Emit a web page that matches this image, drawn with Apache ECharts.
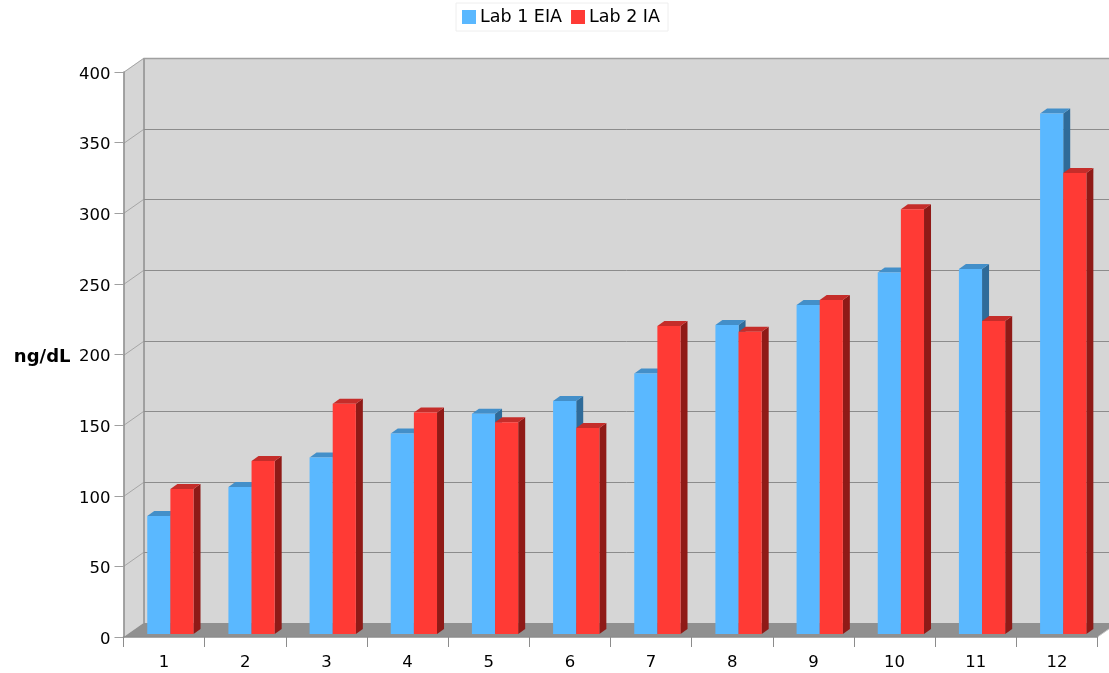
<!DOCTYPE html>
<html>
<head>
<meta charset="utf-8">
<style>html,body{margin:0;padding:0;background:#fff}#c{width:1109px;height:673px}</style>
<script src="https://cdn.jsdelivr.net/npm/echarts@6/dist/echarts.min.js"></script>
</head>
<body>
<div id="c"></div>
<script>
const categories = ['1','2','3','4','5','6','7','8','9','10','11','12'];
const lab1 = [83.5, 104, 125, 142, 156, 165, 184.5, 218.8, 233, 256, 258.4, 368.5];
const lab2 = [102.7, 122.5, 163, 156.8, 150, 145.8, 218, 214, 236.5, 300.7, 221.6, 326.4];
const tickValues = [0, 50, 100, 150, 200, 250, 300, 350, 400];
const wallDX = 20, wallDY = -14;
const barOffX = 6.3, barOffY = -3, barDX = 7, barDY = -5, barFrac = 0.285;

function poly(points, fill, stroke, lw) {
  return {type: 'polygon', shape: {points: points},
    style: {fill: fill, stroke: stroke || null, lineWidth: lw || 0}};
}
function seg(x1, y1, x2, y2, color, lw) {
  return {type: 'line', shape: {x1, y1, x2, y2}, style: {stroke: color, lineWidth: lw || 1, fill: null}};
}
function wallItem(params, api) {
  const band = api.size([1, 0])[0];
  const l = api.coord([0, 0])[0] - band / 2;
  const r = api.coord([11, 0])[0] + band / 2;
  const y0 = api.coord([0, 0])[1], yT = api.coord([0, 400])[1];
  const c = [];
  c.push(poly([[l + wallDX, yT + wallDY], [r + wallDX, yT + wallDY], [r + wallDX, y0 + wallDY], [l + wallDX, y0 + wallDY]], '#d6d6d6'));
  c.push(poly([[l, y0], [l + wallDX, y0 + wallDY], [l + wallDX, yT + wallDY], [l, yT]], '#d6d6d6'));
  c.push(poly([[l, y0], [l + wallDX, y0 + wallDY], [r + wallDX, y0 + wallDY], [r, y0]], '#909090'));
  c.push(seg(l + wallDX + .5, yT + wallDY, l + wallDX + .5, y0 + wallDY, '#8c8c8c', 1.5));
  c.push(seg(r, y0, r + wallDX, y0 + wallDY, '#c8c8c8', 1));
  return {type: 'group', children: c};
}
function gridItem(params, api) {
  const v = api.value(1);
  const band = api.size([1, 0])[0];
  const l = api.coord([0, v])[0] - band / 2;
  const r = api.coord([11, v])[0] + band / 2;
  const y = Math.round(api.coord([0, v])[1]) + .5;
  const col = v === 400 ? '#a0a0a0' : '#8c8c8c';
  return {type: 'group', children: [
    seg(l, y, l + wallDX, y + wallDY, '#a6a6a6', 1),
    seg(l + wallDX, y + wallDY, r + wallDX, y + wallDY, col, v === 400 ? 1.5 : 1)
  ]};
}
function barItem(shift, front, top, side) {
  return function (params, api) {
    const idx = api.value(0), v = api.value(1);
    const band = api.size([1, 0])[0];
    const w = band * barFrac;
    const pT = api.coord([idx, v]), p0 = api.coord([idx, 0]);
    const x1 = p0[0] + barOffX + (shift - 1) * w, x2 = x1 + w;
    const yB = p0[1] + barOffY, yU = pT[1] + barOffY;
    return {type: 'group', children: [
      poly([[x2, yB], [x2 + barDX, yB + barDY], [x2 + barDX, yU + barDY], [x2, yU]], side),
      poly([[x1, yU], [x1 + barDX, yU + barDY], [x2 + barDX, yU + barDY], [x2, yU]], top),
      poly([[x1, yB], [x1, yU], [x2, yU], [x2, yB]], front)
    ]};
  };
}
const chart = echarts.init(document.getElementById('c'), null, {renderer: 'canvas'});
const font = '"DejaVu Sans", sans-serif';
chart.setOption({
  animation: false,
  backgroundColor: '#fff',
  textStyle: {fontFamily: font},
  legend: {
    data: ['Lab 1 EIA', 'Lab 2 IA'], top: 3, left: 456, icon: 'rect', itemWidth: 14, itemHeight: 14,
    itemGap: 9, padding: [5, 8, 5, 6], borderColor: '#eeeeee', borderWidth: 1, backgroundColor: '#fff',
    textStyle: {fontSize: 17.5, color: '#000', fontFamily: font, padding: [0, 0, 0, -1]}
  },
  grid: {left: 123.5, right: 11.5, top: 72, height: 565},
  xAxis: {
    type: 'category', data: categories, boundaryGap: true, z: 10,
    axisLine: {lineStyle: {color: '#8c8c8c', width: 1.5}},
    axisTick: {show: true, length: 10, alignWithLabel: false, lineStyle: {color: '#8c8c8c'}},
    axisLabel: {fontSize: 16.5, color: '#000', margin: 17, fontFamily: font, interval: 0}
  },
  yAxis: {
    type: 'value', min: 0, max: 400, interval: 50, z: 10,
    name: 'ng/dL', nameLocation: 'middle', nameRotate: 0, nameGap: 53,
    nameTextStyle: {fontSize: 18, fontWeight: 'bold', color: '#000', fontFamily: font, verticalAlign: 'top', padding: [-6, 0, 0, 0]},
    axisLine: {show: true, lineStyle: {color: '#8c8c8c', width: 1.5}},
    axisTick: {show: true, length: 9, lineStyle: {color: '#a0a0a0'}},
    axisLabel: {fontSize: 16.5, color: '#000', margin: 13, fontFamily: font, verticalAlign: 'top', padding: [-6, 0, 0, 0]},
    splitLine: {show: false}
  },
  series: [
    {name: 'wall', type: 'custom', silent: true, renderItem: wallItem, data: [[0, 0]], z: 1, clip: false},
    {name: 'grid', type: 'custom', silent: true, renderItem: gridItem, clip: false, z: 2,
      data: tickValues.filter(v => v > 0).map(v => [0, v])},
    {name: 'Lab 1 EIA', type: 'custom', renderItem: barItem(0, '#5ab8ff', '#438fc9', '#2f6b99'), clip: false, z: 3,
      itemStyle: {color: '#5ab8ff'}, data: lab1.map((v, i) => [i, v])},
    {name: 'Lab 2 IA', type: 'custom', renderItem: barItem(1, '#ff3a35', '#c52d2a', '#8f1a17'), clip: false, z: 4,
      itemStyle: {color: '#ff3a35'}, data: lab2.map((v, i) => [i, v])}
  ]
});
</script>
</body>
</html>
